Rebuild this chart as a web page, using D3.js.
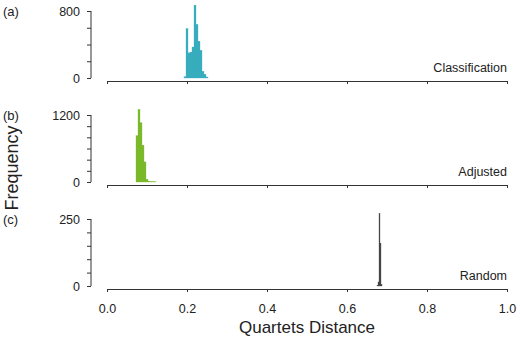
<!DOCTYPE html>
<html>
<head>
<meta charset="utf-8">
<script src="https://cdn.jsdelivr.net/npm/d3@7"></script>
<style>
  body { margin: 0; background: #fff; }
  text { font-family: "Liberation Sans", Arial, sans-serif; fill: #222; }
  .axis path, .axis line { stroke: #333; }
  .axis text { font-size: 12.5px; fill: #222; font-family: "Liberation Sans", Arial, sans-serif; }
</style>
</head>
<body>
<svg id="chart" width="520" height="343"></svg>
<script>
// bin starts (quartets distance), bin widths and counts per panel
var classStart = [0.1925, 0.1975, 0.2025, 0.2075, 0.2125, 0.2175, 0.2225, 0.2275, 0.2325, 0.2375, 0.2425, 0.2475];
var classCount = [15, 590, 300, 310, 370, 870, 640, 440, 330, 80, 45, 12];
var adjStart = [0.0725, 0.0775, 0.0825, 0.0875, 0.0925, 0.0975, 0.1025, 0.1075, 0.1125, 0.1175];
var adjCount = [830, 1300, 1060, 660, 360, 50, 15, 8, 5, 3];
var randStart = [0.675, 0.6775, 0.68, 0.6825, 0.685];
var randCount = [3, 15, 270, 160, 6];

var panelTags = ["(a)", "(b)", "(c)"];
var panelNames = ["Classification", "Adjusted", "Random"];
var yMax = [800, 1200, 250];
var yStep = [200, 200, 50];
var binWidth = [0.005, 0.005, 0.0025];
var colors = ["#38adbe", "#7bb92b", "#474747"];
var xTicks = [0, 0.2, 0.4, 0.6, 0.8, 1.0];

var series = [
  d3.zip(classStart, classCount),
  d3.zip(adjStart, adjCount),
  d3.zip(randStart, randCount)
];

var svg = d3.select("#chart");
var x = d3.scaleLinear().domain([0, 1]).range([107, 507]);

for (var i = 0; i < 3; i++) {
  var panelTop = 11 + i * 104;
  var y = d3.scaleLinear().domain([0, yMax[i]]).range([panelTop + 67, panelTop]);
  var g = svg.append("g");

  // y axis: only end labels shown
  var yt = d3.range(0, yMax[i] + 1, yStep[i]);
  var yAxis = d3.axisLeft(y).tickValues(yt).tickSize(4).tickPadding(7)
    .tickFormat(function (d, j, arr) { return (d === 0 || j === arr.length - 1) ? d : ""; })
    .tickSizeOuter(0);
  g.append("g").attr("class", "axis")
    .attr("transform", "translate(91,0)")
    .call(yAxis)
    .call(function (s) { s.select(".domain").attr("d", "M0," + y(yMax[i]) + "V" + y(0)); });

  // x axis
  var xAxis = d3.axisBottom(x).tickValues(xTicks).tickSize(3).tickSizeOuter(0).tickPadding(12)
    .tickFormat(i === 2 ? d3.format(".1f") : "");
  g.append("g").attr("class", "axis")
    .attr("transform", "translate(0," + (y(0) + 3) + ")")
    .call(xAxis);

  // bars
  g.selectAll("rect").data(series[i]).enter().append("rect")
    .attr("x", function (d) { return x(d[0]); })
    .attr("width", function (d, j) { return x(d[0] + binWidth[i]) - x(d[0]); })
    .attr("y", function (d) { return y(d[1]); })
    .attr("height", function (d) { return y(0) - y(d[1]); })
    .attr("fill", colors[i])
    .attr("stroke", colors[i]).attr("stroke-width", 0.3);

  g.append("text").attr("x", 3).attr("y", y(yMax[i]) + 5)
    .style("font-size", "13px").text(panelTags[i]);
  g.append("text").attr("x", 507).attr("y", y(0) - 6)
    .attr("text-anchor", "end").style("font-size", "12.5px").text(panelNames[i]);
}

svg.append("text")
  .attr("transform", "translate(18,168) rotate(-90)")
  .attr("text-anchor", "middle").style("font-size", "18px").text("Frequency");
svg.append("text")
  .attr("x", x(0.5)).attr("y", 333)
  .attr("text-anchor", "middle").style("font-size", "17px").text("Quartets Distance");
</script>
</body>
</html>
